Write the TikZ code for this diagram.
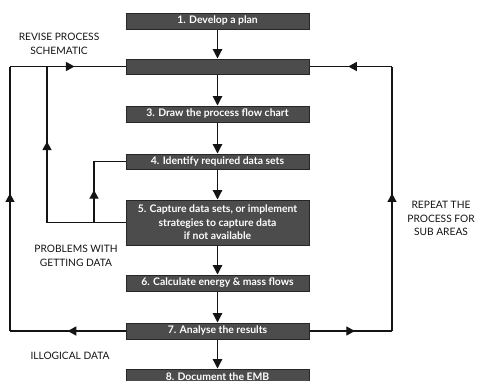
\documentclass[tikz,border=0pt]{standalone}
\usepackage{fontspec}
\setmainfont{Lato}
\usetikzlibrary{arrows.meta,decorations.markings}
\definecolor{boxfill}{HTML}{4C4C4C}
\definecolor{boxline}{HTML}{262626}
\definecolor{ink}{HTML}{141414}
\tikzset{
  stepbox/.style={draw=boxline, fill=boxfill, line width=1pt, minimum width=183pt,
    minimum height=16pt, inner sep=0pt, text=white, font=\fontsize{10.4}{13.5}\selectfont\bfseries,
    align=center},
  flow/.style={draw=ink, line width=1.2pt, -{Triangle[length=9.5pt,width=9.5pt]}},
  wire/.style={draw=ink, line width=1.2pt},
  tipat/.style={postaction={decorate}, decoration={markings,
    mark=at position #1 with {\arrow{Triangle[length=8.5pt,width=9pt]}}}},
  note/.style={text=ink, font=\fontsize{10.2}{14}\selectfont, align=center, inner sep=0pt}
}
\begin{document}
\begin{tikzpicture}[x=1pt,y=-1pt]
  \useasboundingbox (0,0) rectangle (478,380);
  \fill[white] (0,0) rectangle (478,380);

  % process steps
  \node[stepbox] (b1) at (217.5,21) {1. Develop a plan};
  \node[stepbox, minimum height=15pt] (b2) at (217.5,66.5) {};
  \node[stepbox] (b3) at (217.5,114) {3. Draw the process flow chart};
  \node[stepbox, minimum height=15pt] (b4) at (217.5,161.5) {4. Identify required data sets};
  \node[stepbox, minimum height=45pt] (b5) at (217.5,222.5) {5. Capture data sets, or implement\\strategies to capture data\\if not available};
  \node[stepbox] (b6) at (217.5,283) {6. Calculate energy \& mass flows};
  \node[stepbox] (b7) at (217.5,331) {7. Analyse the results};
  \node[stepbox] (b8) at (217.5,377) {8. Document the EMB};

  % main sequence
  \draw[flow] (b1) -- (b2);
  \draw[flow] (b2) -- (b3);
  \draw[flow] (b3) -- (b4);
  \draw[flow] (b4) -- (b5);
  \draw[flow] (b5) -- (b6);
  \draw[flow] (b6) -- (b7);
  \draw[flow] (b7) -- (b8);

  % feedback loop corners
  \coordinate (lo) at (10,331);
  \coordinate (lt) at (10,66.5);
  \coordinate (mi) at (47,222.5);
  \coordinate (mt) at (47,66.5);
  \coordinate (br) at (94,222.5);
  \coordinate (bt) at (94,161.5);
  \coordinate (ro) at (392,331);
  \coordinate (rt) at (392,66.5);

  % illogical data: back to the schematic
  \draw[wire, tipat=0.5] (b7.west) -- (lo);
  \draw[wire, tipat=0.52] (lo) -- (lt);
  \draw[wire] (lt) -- (mt);
  \draw[wire, tipat=0.35] (mt) -- (b2.west);
  % problems with getting data
  \draw[wire, tipat=0.68] (b5.west) -- (mi) -- (mt);
  \draw[wire, tipat=0.35] (br) -- (bt) -- (b4.west);
  % repeat for sub areas
  \draw[wire, tipat=0.55] (b7.east) -- (ro);
  \draw[wire, tipat=0.52] (ro) -- (rt);
  \draw[wire, tipat=0.53] (rt) -- (b2.east);

  % labels
  \node[note] (n1) at (59,44) {REVISE PROCESS\\SCHEMATIC};
  \node[note] (n2) at (76,255.5) {PROBLEMS WITH\\GETTING DATA};
  \node[note] (n3) at (70,356) {ILLOGICAL DATA};
  \node[note, font=\fontsize{10.2}{13.5}\selectfont] (n4) at (441,218.5) {REPEAT THE\\PROCESS FOR\\SUB AREAS};
\end{tikzpicture}
\end{document}
